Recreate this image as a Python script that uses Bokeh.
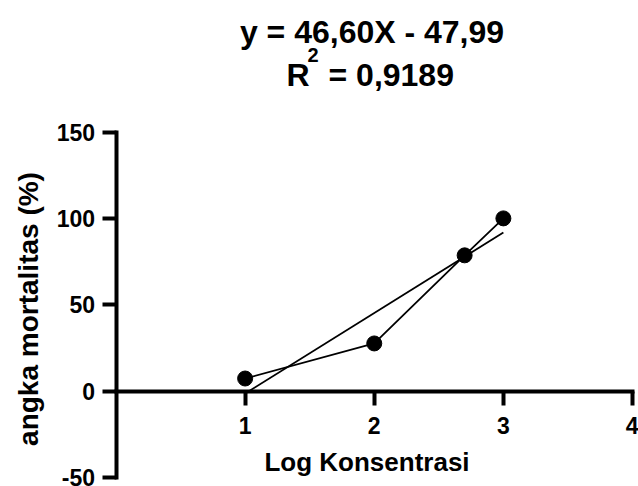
import math
from bokeh.plotting import figure
from bokeh.models import FixedTicker, Range1d
from bokeh.core.properties import value
from bokeh.embed import file_html
from bokeh.resources import INLINE

# ---- data ----
log_konsentrasi = [1.0, 2.0, 2.7, 3.0]
mortalitas = [7.3, 27.6, 78.6, 100.0]
slope = 46.60
intercept = -47.99
fit_x = [1.0, 3.0]
x_ticks = [1, 2, 3, 4]
y_ticks = [-50, 0, 50, 100, 150]
x_title = "Log Konsentrasi"
y_title = "angka mortalitas (%)"
title_line1 = "y = 46,60X - 47,99"
r2_base = "R"
r2_sup = "2"
r2_value = "= 0,9189"

FONT = "Liberation Sans"
W, H = 638, 486
# axis extents in pixels (from the top-left of the picture)
AX_LEFT, AX_RIGHT = 115.5, 632.0      # x = 0 .. 4
AX_TOP, AX_BOTTOM = 131.5, 477.0      # y = 150 .. -50
X_AX0, X_AX1 = 0, 4
Y_AX0, Y_AX1 = -50, 150
PX_PER_X = (AX_RIGHT - AX_LEFT) / (X_AX1 - X_AX0)
PX_PER_Y = (AX_BOTTOM - AX_TOP) / (Y_AX1 - Y_AX0)
X_START = X_AX0 - AX_LEFT / PX_PER_X
X_END = X_START + W / PX_PER_X
Y_START = Y_AX0 - (H - AX_BOTTOM) / PX_PER_Y
Y_END = Y_START + H / PX_PER_Y
BASE_FIX = 12   # renderer places alphabetic baselines this much lower

def dy(py):   # pixel row (from top) -> data y
    return Y_END - py / PX_PER_Y

def dx(px):   # pixel column -> data x
    return X_START + px / PX_PER_X

p = figure(width=W, height=H, frame_width=W, frame_height=H, min_border=0,
           output_backend="svg", toolbar_location=None,
           x_range=Range1d(X_START, X_END), y_range=Range1d(Y_START, Y_END))
p.outline_line_color = None
p.grid.visible = False

for ax in (p.xaxis[0], p.yaxis[0]):
    ax.axis_line_width = 4
    ax.axis_line_cap = "square"
    ax.major_tick_line_width = 4
    ax.major_tick_in = 0
    ax.major_tick_out = 14
    ax.minor_tick_line_color = None
    ax.major_label_text_font = FONT
    ax.major_label_text_font_style = "bold"
    ax.major_label_text_font_size = "23px"
    ax.major_label_text_color = "black"

p.xaxis.ticker = FixedTicker(ticks=x_ticks)
p.yaxis.ticker = FixedTicker(ticks=y_ticks)
p.xaxis.bounds = (X_AX0, X_AX1)
p.yaxis.bounds = (Y_AX0, Y_AX1)
p.yaxis.major_label_overrides = {-50: "-50"}
p.xaxis.fixed_location = 0
p.yaxis.fixed_location = 0
p.xaxis.major_label_standoff = 12
p.yaxis.major_label_standoff = 7

# regression line
fit_y = [slope * x + intercept for x in fit_x]
p.line(fit_x, fit_y, line_color="black", line_width=1.8)
# connected data
p.line(log_konsentrasi, mortalitas, line_color="black", line_width=1.8)
p.scatter(log_konsentrasi, mortalitas, size=15, color="black")

# texts
def txt(s, px, py, size, align="left", baseline="alphabetic", angle=0.0):
    p.text(x=[dx(px)], y=[dy(py)], text=[s], text_font=value(FONT),
           text_font_style="bold", text_font_size=size, text_align=align,
           text_baseline=baseline, text_color="black", angle=angle)

txt(title_line1, 371.5, 43 - BASE_FIX, "32px", "center")
txt(r2_base, 286, 86 - BASE_FIX, "32px")
txt(r2_sup, 307, 66 - BASE_FIX, "20px")
txt(r2_value, 328, 86 - BASE_FIX, "32px")
txt(x_title, 366.5, 473.5 - BASE_FIX, "26px", "center")
txt(y_title, 28, 308.5, "28px", "center", "middle", math.pi / 2)

open("out.html", "w").write(file_html(p, INLINE))
